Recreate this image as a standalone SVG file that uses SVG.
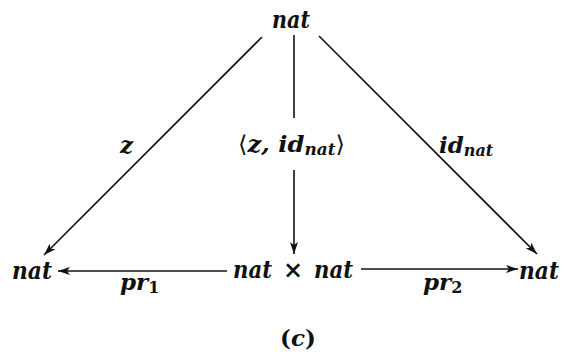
<svg xmlns="http://www.w3.org/2000/svg" width="564" height="353" viewBox="0 0 564 353">
<style>
.t{font-family:"DejaVu Serif","Liberation Serif",serif;font-weight:bold;font-style:italic;font-size:24px;fill:#111}
.l{font-family:"DejaVu Serif","Liberation Serif",serif;font-weight:bold;font-style:italic;font-size:23px;fill:#111}
.s{font-size:16px}
.r{font-style:normal}
.e{stroke:#111;stroke-width:1.6;fill:none}
</style>
<defs>
<marker id="ah" viewBox="0 0 12 8" refX="12" refY="4" markerWidth="12" markerHeight="8" markerUnits="userSpaceOnUse" orient="auto">
<path d="M0,0 L12,4 L0,8 L3,4 Z" fill="#111"/>
</marker>
</defs>
<rect width="564" height="353" fill="#fff"/>
<g id="node-top"><text class="t" x="272" y="28" textLength="38" lengthAdjust="spacingAndGlyphs">nat</text></g>
<g id="node-left"><text class="t" x="12" y="279" textLength="40" lengthAdjust="spacingAndGlyphs">nat</text></g>
<g id="node-product">
<text class="t" x="233" y="278" textLength="39" lengthAdjust="spacingAndGlyphs">nat</text>
<text class="t r" x="293" y="278" text-anchor="middle" font-weight="normal">×</text>
<text class="t" x="314" y="278" textLength="39" lengthAdjust="spacingAndGlyphs">nat</text>
</g>
<g id="node-right"><text class="t" x="519" y="279" textLength="40" lengthAdjust="spacingAndGlyphs">nat</text></g>
<g id="connectors">
<line class="e" x1="262" y1="37" x2="44" y2="255" marker-end="url(#ah)"/>
<line class="e" x1="319" y1="36" x2="537" y2="254" marker-end="url(#ah)"/>
<line class="e" x1="294" y1="35" x2="294" y2="118"/>
<line class="e" x1="294" y1="170" x2="294" y2="254" marker-end="url(#ah)"/>
<line class="e" x1="227" y1="271" x2="58" y2="271" marker-end="url(#ah)"/>
<line class="e" x1="361" y1="269" x2="518" y2="269" marker-end="url(#ah)"/>
<text class="l" x="120" y="153">z</text>
<text class="l" x="238" y="152" textLength="107" lengthAdjust="spacingAndGlyphs"><tspan class="r" font-weight="normal">⟨</tspan>z, id<tspan class="s" dy="3">nat</tspan><tspan class="r" font-weight="normal" dy="-3">⟩</tspan></text>
<text class="l" x="439" y="153">id<tspan class="s" dy="3">nat</tspan></text>
<text class="l" x="120" y="290">pr<tspan class="s r" dy="3">1</tspan></text>
<text class="l" x="423" y="290">pr<tspan class="s r" dy="3">2</tspan></text>
</g>
<g id="caption"><text class="l" x="280" y="346"><tspan class="r">(</tspan>c<tspan class="r">)</tspan></text></g>
</svg>
